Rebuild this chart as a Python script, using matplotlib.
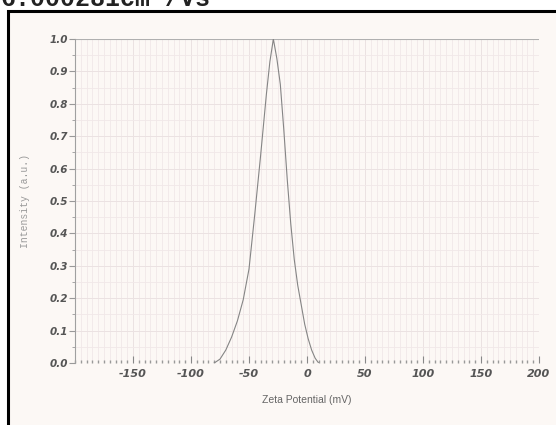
import matplotlib.pyplot as plt
from matplotlib.patches import Rectangle
from matplotlib.ticker import MultipleLocator

# zeta potential distribution
zeta = [-80, -75, -70, -65, -60, -55, -50, -45, -40, -35, -32, -29,
        -26, -23, -20, -17, -14, -11, -8, -5, -2, 1, 4, 7, 10]
intensity = [0.0, 0.012, 0.04, 0.08, 0.13, 0.195, 0.29, 0.46, 0.64, 0.83,
             0.93, 1.0, 0.94, 0.86, 0.72, 0.565, 0.43, 0.32, 0.24, 0.18,
             0.12, 0.075, 0.04, 0.015, 0.0]
xticks = [-150, -100, -50, 0, 50, 100, 150, 200]
yticks = [0.0, 0.1, 0.2, 0.3, 0.4, 0.5, 0.6, 0.7, 0.8, 0.9, 1.0]

fig = plt.figure(figsize=(5.56, 4.25), dpi=100)
fig.patch.set_facecolor('white')

# scanned page frame
frame = Rectangle((8 / 556, -0.1), 1.0, 1 - 11 / 425 + 0.1,
                  transform=fig.transFigure, facecolor='#fcf8f5',
                  edgecolor='black', linewidth=2.2, zorder=-5)
fig.patches.append(frame)

fig.text(0.0, 1.003, '6.000281cm\u00b2/Vs', family='Liberation Mono',
         fontweight='bold', fontsize=18, ha='left', va='center', color='#222222')

ax = fig.add_axes([75 / 556, 1 - 363 / 425, (539 - 75) / 556, (363 - 39) / 425])
ax.set_zorder(2)
ax.set_facecolor('none')

ax.plot(zeta, intensity, color='#858585', linewidth=0.8, zorder=3)

ax.set_xlim(-200, 200)
ax.set_ylim(0, 1.0)

ax.xaxis.set_minor_locator(MultipleLocator(5))
ax.yaxis.set_minor_locator(MultipleLocator(0.05))
ax.grid(which='minor', color='#f1e8e8', linewidth=0.6)
ax.grid(which='major', color='#ebe2e2', linewidth=0.7)
ax.axhline(1.0, color='#b0b0b0', linewidth=0.8)

ax.set_xticks(xticks)
ax.set_yticks(yticks)
ax.set_xticklabels([str(t) for t in xticks])
ax.set_yticklabels(['%.1f' % t for t in yticks])

for s in ['top', 'right', 'bottom']:
    ax.spines[s].set_visible(False)
ax.spines['left'].set_color('#a0a0a0')
ax.spines['left'].set_linewidth(0.8)

ax.tick_params(axis='x', which='major', direction='in', length=5, color='#888888',
               labelsize=8, labelcolor='#555555', pad=4)
ax.tick_params(axis='x', which='minor', direction='in', length=2, color='#999999', width=1)
ax.tick_params(axis='y', which='major', direction='out', length=4, color='#999999',
               labelsize=7.5, labelcolor='#555555', pad=1)
ax.tick_params(axis='y', which='minor', direction='out', length=2, color='#999999')
for lbl in ax.get_xticklabels() + ax.get_yticklabels():
    lbl.set_fontstyle('italic')
    lbl.set_fontweight('bold')

ax.set_xlabel('Zeta Potential (mV)', fontsize=7.5, color='#666666',
              family='Liberation Sans', labelpad=12)
ax.set_ylabel('Intensity (a.u.)', fontsize=7, color='#999999',
              family='Liberation Mono', labelpad=14)

fig.savefig('out.png', dpi=100)
